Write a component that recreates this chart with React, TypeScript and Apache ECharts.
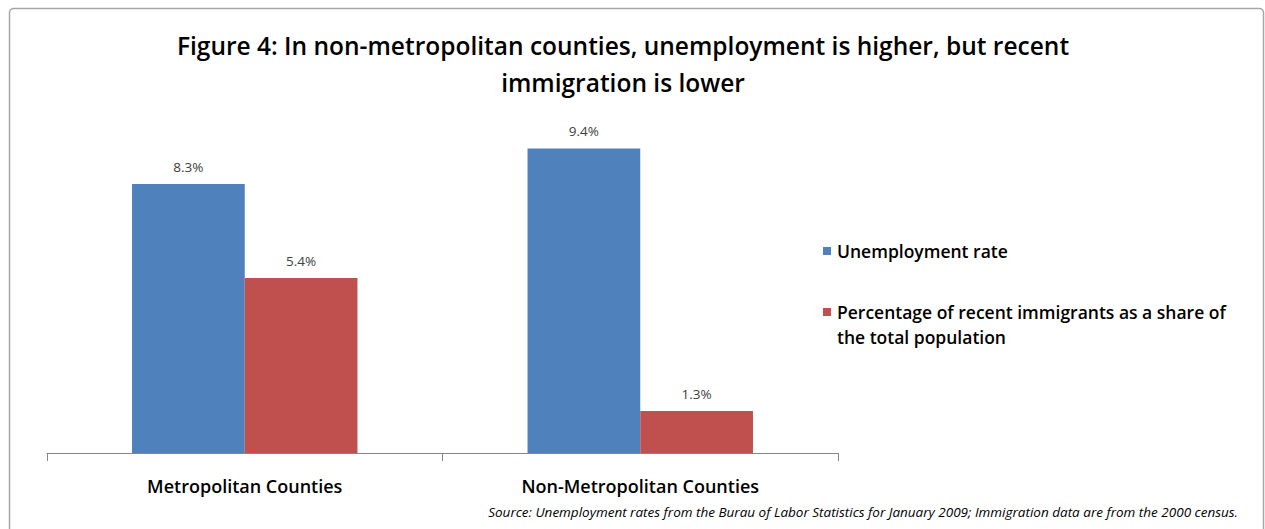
import React, { useEffect, useRef } from "react";
import * as echarts from "echarts";

const categories = ["Metropolitan Counties", "Non-Metropolitan Counties"];
const unemploymentRate = [8.3, 9.4];
const recentImmigrants = [5.4, 1.3];
const seriesNames = [
  "Unemployment rate",
  "Percentage of recent immigrants as a share of the total population",
];
const legendLines = [
  ["Unemployment rate"],
  ["Percentage of recent immigrants as a share of", "the total population"],
];
const colors = ["#4F81BD", "#C0504D"];
const titleText =
  "Figure 4: In non-metropolitan counties, unemployment is higher, but recent\nimmigration is lower";
const sourceText =
  "Source: Unemployment rates from the Burau of Labor Statistics for January 2009; Immigration data are from the 2000 census.";

const FONT = "'Open Sans', 'Noto Sans', sans-serif";

export default function App() {
  const ref = useRef<HTMLDivElement>(null);
  useEffect(() => {
    if (!ref.current) return;
    const chart = echarts.init(ref.current, null, { renderer: "svg" });
    const legendGraphics: any[] = [];
    const legendTops = [243, 304];
    legendLines.forEach((lines, i) => {
      legendGraphics.push({
        type: "rect",
        shape: { x: 823, y: legendTops[i] + 4, width: 8, height: 8 },
        style: { fill: colors[i] },
      });
      lines.forEach((ln, j) => {
        legendGraphics.push({
          type: "text",
          x: 837,
          y: legendTops[i] + 8 + j * 25,
          style: {
            text: ln,
            fill: "#000",
            font: `600 17.5px ${FONT}`,
            textVerticalAlign: "middle",
          },
        });
      });
    });
    const labelOpt = {
      show: true,
      position: "top",
      distance: 10,
      formatter: (p: any) => p.value.toFixed(1) + "%",
      fontFamily: FONT,
      fontSize: 13.5,
      color: "#404040",
    };
    chart.setOption({
      animation: false,
      backgroundColor: "#fff",
      title: {
        text: titleText,
        left: 618,
        textAlign: "center",
        top: 22,
        textStyle: {
          fontFamily: FONT,
          fontSize: 24.5,
          fontWeight: 600,
          color: "#000",
          lineHeight: 37,
        },
      },
      grid: { left: 47, right: 427, top: 129, bottom: 76 },
      xAxis: {
        type: "category",
        data: categories,
        axisLine: { lineStyle: { color: "#868686", width: 1 } },
        axisTick: { show: true, length: 8, lineStyle: { color: "#868686" } },
        axisLabel: {
          fontFamily: FONT,
          fontSize: 18,
          fontWeight: 600,
          color: "#000",
          margin: 24,
        },
      },
      yAxis: {
        type: "value",
        min: 0,
        max: 10,
        show: false,
        splitLine: { show: false },
      },
      series: [
        {
          name: seriesNames[0],
          type: "bar",
          data: unemploymentRate,
          itemStyle: { color: colors[0] },
          barGap: "0%",
          barCategoryGap: "43%",
          label: labelOpt,
        },
        {
          name: seriesNames[1],
          type: "bar",
          data: recentImmigrants,
          itemStyle: { color: colors[1] },
          barGap: "0%",
          barCategoryGap: "43%",
          label: labelOpt,
        },
      ],
      graphic: [
        {
          type: "rect",
          shape: { x: 9.5, y: 8.5, width: 1254, height: 540, r: 4 },
          style: { fill: "none", stroke: "#a6a6a6", lineWidth: 1.5 },
          silent: true,
        },
        ...legendGraphics,
        {
          type: "text",
          right: 27,
          top: 505,
          style: {
            text: sourceText,
            fill: "#000",
            font: `italic 13.5px ${FONT}`,
          },
        },
      ],
    });
    return () => chart.dispose();
  }, []);
  return (
    <div
      ref={ref}
      style={{ position: "fixed", left: 0, top: 0, width: 1265, height: 529 }}
    />
  );
}
